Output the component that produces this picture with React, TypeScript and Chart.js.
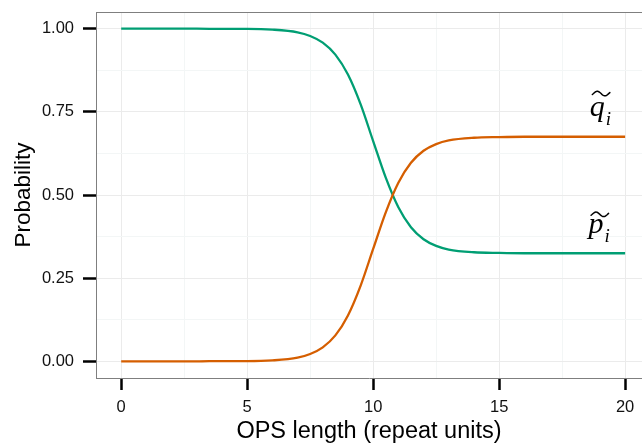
import React, { useEffect, useRef } from 'react';
import { Chart, registerables } from 'chart.js';

Chart.register(...registerables);

// OPS length (repeat units)
const xValues = [0, 1, 2, 3, 4, 5, 6, 7, 7.5, 8, 8.5, 9, 9.5, 10, 10.5, 11, 11.5, 12, 12.5, 13, 14, 15, 16, 17, 18, 19, 20];
// q~_i (orange)
const qValues = [0, 0, 0, 0, 0.001, 0.001, 0.003, 0.011, 0.022, 0.042, 0.078, 0.138, 0.227, 0.338, 0.448, 0.537, 0.597, 0.633, 0.653, 0.664, 0.672, 0.674, 0.675, 0.675, 0.675, 0.675, 0.675];
// p~_i (green)
const pValues = [1, 1, 1, 1, 0.999, 0.999, 0.997, 0.989, 0.978, 0.958, 0.922, 0.862, 0.773, 0.662, 0.552, 0.463, 0.403, 0.367, 0.347, 0.336, 0.328, 0.326, 0.325, 0.325, 0.325, 0.325, 0.325];

const xTicks = [0, 2.5, 5, 7.5, 10, 12.5, 15, 17.5, 20];
const xMajor = [0, 5, 10, 15, 20];
const yTicks = [0, 0.125, 0.25, 0.375, 0.5, 0.625, 0.75, 0.875, 1];
const yMajor = [0, 0.25, 0.5, 0.75, 1];

const curveLabels = [
  { base: 'q', sub: 'i', x: 18.6, y: 0.738 },
  { base: 'p', sub: 'i', x: 18.55, y: 0.387 },
];
const tildeLift: Record<string, number> = { q: 24.5, p: 20.5 };

const SANS = '"Liberation Sans", Arial, Helvetica, sans-serif';
const SERIF = '"Liberation Serif", "DejaVu Serif", serif';

const near = (arr: number[], v: number) => arr.some((a) => Math.abs(a - v) < 1e-9);

const annotate = {
  id: 'annotate',
  afterDatasetsDraw(chart: any) {
    const { ctx, chartArea, scales } = chart;
    ctx.save();
    ctx.strokeStyle = '#7f7f7f';
    ctx.lineWidth = 1;
    ctx.beginPath();
    ctx.moveTo(chartArea.left, chartArea.top + 0.5);
    ctx.lineTo(chartArea.right, chartArea.top + 0.5);
    ctx.stroke();

    for (const l of curveLabels) {
      const px = scales.x.getPixelForValue(l.x);
      const py = scales.y.getPixelForValue(l.y);
      ctx.fillStyle = '#000';
      ctx.textAlign = 'left';
      ctx.textBaseline = 'alphabetic';
      ctx.font = 'italic 30px ' + SERIF;
      ctx.fillText(l.base, px, py);
      const w = ctx.measureText(l.base).width;
      ctx.font = 'italic 19px ' + SERIF;
      ctx.fillText(l.sub, px + w + 1, py + 9);
      // tilde (wide accent over the letter)
      const tx = px + 2.5;
      const tw = 17.5;
      const th = 4.5;
      const top = py - (tildeLift[l.base] || 23);
      ctx.lineWidth = 1.5;
      ctx.lineCap = 'round';
      ctx.lineJoin = 'round';
      ctx.strokeStyle = '#000';
      ctx.beginPath();
      const n = 30;
      for (let k = 0; k <= n; k++) {
        const t = k / n;
        const h = -Math.cos(3 * Math.PI * (0.12 + 0.76 * t));
        const xx = tx + tw * t;
        const yy = top + th / 2 - (th / 2) * h;
        if (k === 0) ctx.moveTo(xx, yy);
        else ctx.lineTo(xx, yy);
      }
      ctx.stroke();
    }
    ctx.restore();
  },
};

export default function App() {
  const ref = useRef<HTMLCanvasElement>(null);
  useEffect(() => {
    const chart = new Chart(ref.current!, {
      type: 'line',
      data: {
        datasets: [
          {
            label: 'q',
            data: xValues.map((x, i) => ({ x, y: qValues[i] })),
            borderColor: '#D55E00',
            borderWidth: 2.3,
            pointRadius: 0,
            cubicInterpolationMode: 'monotone',
            fill: false,
          },
          {
            label: 'p',
            data: xValues.map((x, i) => ({ x, y: pValues[i] })),
            borderColor: '#009E73',
            borderWidth: 2.3,
            pointRadius: 0,
            cubicInterpolationMode: 'monotone',
            fill: false,
          },
        ],
      },
      options: {
        responsive: false,
        maintainAspectRatio: false,
        animation: false,
        devicePixelRatio: 1,
        layout: { padding: { top: 12, right: 0, left: 0, bottom: 0 } },
        plugins: { legend: { display: false }, tooltip: { enabled: false } },
        scales: {
          x: {
            type: 'linear',
            min: -1,
            max: 20.67,
            afterBuildTicks: (s: any) => {
              s.ticks = xTicks.map((v) => ({ value: v }));
            },
            afterFit: (s: any) => {
              s.height = 65;
              s.paddingLeft = 0;
              s.paddingRight = 0;
            },
            ticks: {
              autoSkip: false,
              maxRotation: 0,
              padding: 8,
              color: '#111',
              font: { family: SANS, size: 16.5 },
              callback: (v: any) => (near(xMajor, Number(v)) ? String(v) : ''),
            },
            grid: {
              color: (c: any) => (c.tick && near(xMajor, c.tick.value) ? '#ebebeb' : '#f3f6f6'),
              lineWidth: 1,
              tickLength: 12,
              tickWidth: 2.5,
              tickColor: (c: any) => (c.tick && near(xMajor, c.tick.value) ? '#000' : 'rgba(0,0,0,0)'),
            },
            border: { display: true, color: '#7f7f7f', width: 1 },
            title: {
              display: true,
              text: 'OPS length (repeat units)',
              color: '#000',
              font: { family: SANS, size: 23.5, lineHeight: 1 },
              padding: { top: 0, bottom: 0 },
            },
          },
          y: {
            type: 'linear',
            min: -0.05,
            max: 1.05,
            afterBuildTicks: (s: any) => {
              s.ticks = yTicks.map((v) => ({ value: v }));
            },
            afterFit: (s: any) => {
              s.width = 96;
              s.paddingTop = 0;
              s.paddingBottom = 0;
            },
            ticks: {
              autoSkip: false,
              padding: 9,
              color: '#111',
              font: { family: SANS, size: 16.5 },
              callback: (v: any) => (near(yMajor, Number(v)) ? Number(v).toFixed(2) : ''),
            },
            grid: {
              color: (c: any) => (c.tick && near(yMajor, c.tick.value) ? '#ebebeb' : '#f3f6f6'),
              lineWidth: 1,
              tickLength: 13,
              tickWidth: 2.5,
              tickColor: (c: any) => (c.tick && near(yMajor, c.tick.value) ? '#000' : 'rgba(0,0,0,0)'),
            },
            border: { display: true, color: '#7f7f7f', width: 1 },
            title: {
              display: true,
              text: 'Probability',
              color: '#000',
              font: { family: SANS, size: 22.5, lineHeight: 1.2 },
              padding: { top: 10, bottom: 0 },
            },
          },
        },
      },
      plugins: [annotate],
    } as any);
    return () => chart.destroy();
  }, []);
  return (
    <canvas
      ref={ref}
      width={642}
      height={443}
      style={{ position: 'absolute', left: 0, top: 0, width: 642, height: 443, background: '#fff' }}
    />
  );
}
